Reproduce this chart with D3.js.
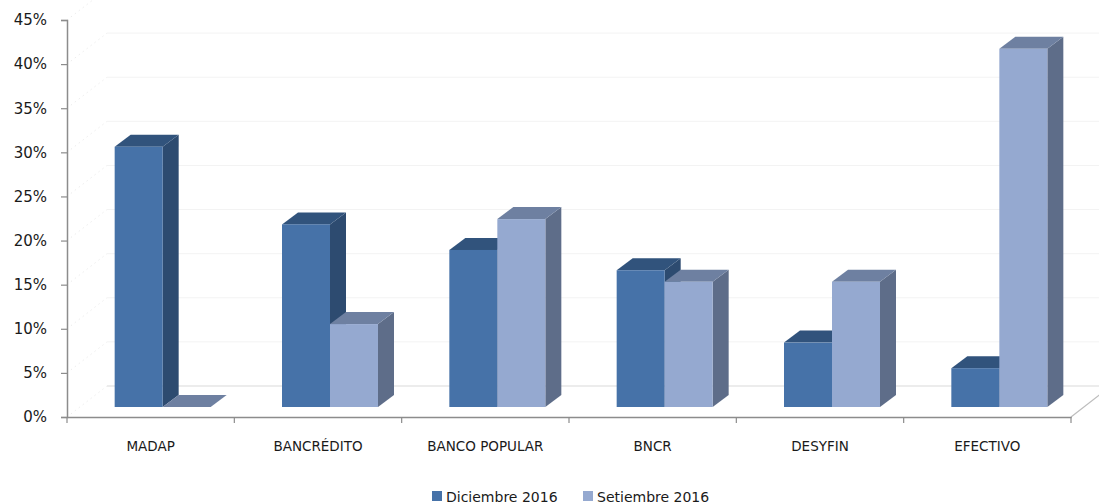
<!DOCTYPE html>
<html>
<head>
<meta charset="utf-8">
<script src="https://cdn.jsdelivr.net/npm/d3@7"></script>
<style>
  body { margin: 0; background: #fff; }
  svg text { font-family: "DejaVu Sans", sans-serif; fill: #1a1a1a; }
</style>
</head>
<body>
<svg id="chart" width="1099" height="504"></svg>
<script>
// data
const categories = ["MADAP", "BANCRÉDITO", "BANCO POPULAR", "BNCR", "DESYFIN", "EFECTIVO"];
const seriesNames = ["Diciembre 2016", "Setiembre 2016"];
const diciembre = [0.295, 0.207, 0.178, 0.155, 0.073, 0.044];
const setiembre = [0, 0.094, 0.213, 0.142, 0.142, 0.406];
const yTicks = [0, 0.05, 0.10, 0.15, 0.20, 0.25, 0.30, 0.35, 0.40, 0.45];

const colors = {
  "Diciembre 2016": { front: "#4672a8", top: "#31537c", side: "#2d4b70" },
  "Setiembre 2016": { front: "#95a9d0", top: "#6e80a1", side: "#5e6d89" }
};

const svg = d3.select("#chart");

// 3D offsets (floor depth, bar position in depth, bar depth)
const wallDx = 40, wallDy = -31;
const posDx = 12, posDy = -10;
const barDx = 16, barDy = -12;

const x0 = d3.scaleBand().domain(categories).range([67, 1071]).padding(0);
const pairW = 96;
const x1 = d3.scaleBand().domain(seriesNames).range([0, pairW]);
const y = d3.scaleLinear().domain([0, 0.45]).range([417, 20]);

// back wall gridlines + faint side wall diagonals
const grid = svg.append("g");
grid.selectAll("line.g")
  .data(yTicks)
  .join("line")
  .attr("x1", 67 + wallDx).attr("x2", 1099)
  .attr("y1", d => y(d) + wallDy).attr("y2", d => y(d) + wallDy)
  .attr("stroke", d => d === 0 ? "#d9d9d9" : "#f3f3f3")
  .attr("stroke-width", 1);
grid.selectAll("line.d")
  .data(yTicks)
  .join("line")
  .attr("x1", 67).attr("x2", 67 + wallDx)
  .attr("y1", d => y(d)).attr("y2", d => y(d) + wallDy)
  .attr("stroke", "#e6e6e6")
  .attr("stroke-dasharray", "1,4");
// right floor edge
svg.append("line")
  .attr("x1", 1071).attr("y1", y(0))
  .attr("x2", 1071 + wallDx).attr("y2", y(0) + wallDy)
  .attr("stroke", "#bdbdbd").attr("stroke-width", 1.2);

// bars
const rows = [];
categories.forEach((c, i) => {
  rows.push({ cat: c, s: seriesNames[0], v: diciembre[i] });
  rows.push({ cat: c, s: seriesNames[1], v: setiembre[i] });
});

const bars = svg.append("g")
  .selectAll("g")
  .data(rows)
  .join("g");

function geom(d) {
  const xl = x0(d.cat) + (x0.bandwidth() - pairW) / 2 + x1(d.s) + posDx;
  const xr = xl + x1.bandwidth();
  const yt = y(d.v) + posDy;
  const yb = y(0) + posDy;
  return { xl, xr, yt, yb };
}

bars.append("path")
  .attr("d", d => {
    const g = geom(d);
    return `M${g.xr},${g.yt}L${g.xr + barDx},${g.yt + barDy}L${g.xr + barDx},${g.yb + barDy}L${g.xr},${g.yb}Z`;
  })
  .attr("fill", d => colors[d.s].side);

bars.append("path")
  .attr("d", d => {
    const g = geom(d);
    return `M${g.xl},${g.yt}L${g.xl + barDx},${g.yt + barDy}L${g.xr + barDx},${g.yt + barDy}L${g.xr},${g.yt}Z`;
  })
  .attr("fill", d => colors[d.s].top);

bars.append("rect")
  .attr("x", d => geom(d).xl)
  .attr("y", d => geom(d).yt)
  .attr("width", x1.bandwidth())
  .attr("height", d => geom(d).yb - geom(d).yt)
  .attr("fill", d => colors[d.s].front);

// y axis
const yAxis = svg.append("g")
  .attr("transform", "translate(67,0)")
  .call(d3.axisLeft(y).tickValues(yTicks).tickFormat(d3.format(".0%")).tickSize(6).tickPadding(14));
yAxis.select(".domain").attr("stroke", "#8c8c8c").attr("stroke-width", 1.5);
yAxis.selectAll(".tick line").attr("stroke", "#8c8c8c").attr("stroke-width", 1.2);
yAxis.selectAll(".tick text")
  .style("font-size", "15px")
  .style("font-family", "DejaVu Sans, sans-serif")
  .attr("fill", "#1a1a1a");

// x axis
const xAxis = svg.append("g")
  .attr("transform", `translate(0,${y(0)})`)
  .call(d3.axisBottom(x0).tickSize(0).tickPadding(24));
xAxis.select(".domain").attr("stroke", "#8c8c8c").attr("stroke-width", 1.5);
xAxis.selectAll(".tick text")
  .style("font-size", "13.5px")
  .style("font-family", "DejaVu Sans, sans-serif")
  .attr("fill", "#1a1a1a");
svg.append("g")
  .selectAll("line")
  .data(categories.concat(["_end"]))
  .join("line")
  .attr("x1", (d, i) => 67 + i * x0.bandwidth())
  .attr("x2", (d, i) => 67 + i * x0.bandwidth())
  .attr("y1", y(0)).attr("y2", y(0) + 6)
  .attr("stroke", "#8c8c8c").attr("stroke-width", 1.2);

// legend
const legend = svg.append("g")
  .selectAll("g")
  .data(seriesNames)
  .join("g")
  .attr("transform", (d, i) => `translate(${432 + i * 151},491)`);
legend.append("rect")
  .attr("width", 10).attr("height", 10)
  .attr("fill", d => colors[d].front);
legend.append("text")
  .attr("x", 14).attr("y", 10.5)
  .style("font-size", "14px")
  .text(d => d);
</script>
</body>
</html>
